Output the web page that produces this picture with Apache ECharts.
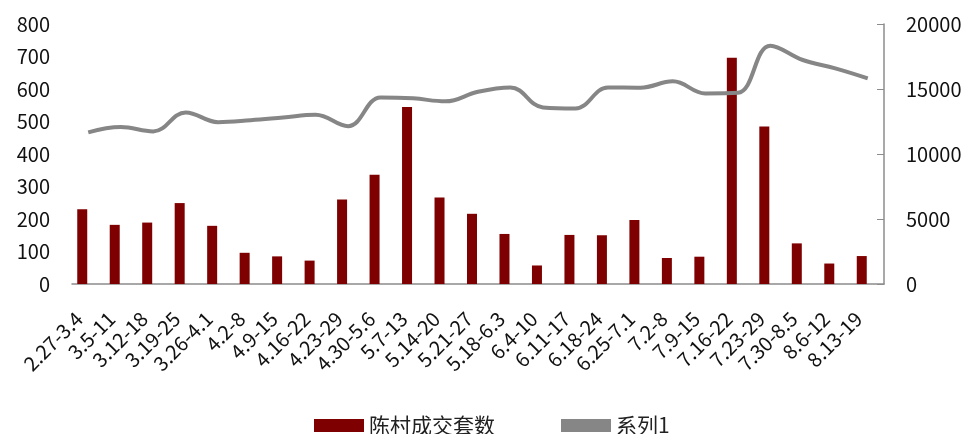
<!DOCTYPE html>
<html>
<head>
<meta charset="utf-8">
<script src="https://cdn.jsdelivr.net/npm/echarts@6/dist/echarts.min.js"></script>
<style>html,body{margin:0;padding:0;background:#fff}#c{width:971px;height:434px}</style>
</head>
<body>
<div id="c"></div>
<script>
const categories = ['2.27-3.4','3.5-11','3.12-18','3.19-25','3.26-4.1','4.2-8','4.9-15','4.16-22','4.23-29','4.30-5.6','5.7-13','5.14-20','5.21-27','5.18-6.3','6.4-10','6.11-17','6.18-24','6.25-7.1','7.2-8','7.9-15','7.16-22','7.23-29','7.30-8.5','8.6-12','8.13-19'];
const chencunDeals = [230,182,189,249,179,96,85,72,260,336,545,266,216,154,57,151,150,197,80,84,696,485,125,63,86];
const series1 = [11660,12070,11740,13200,12450,12600,12810,13020,12140,14350,14280,14050,14790,15120,13580,13500,15120,15100,15590,14660,14710,18330,17230,16590,15820];
const leftTicks = {min:0,max:800,interval:100};
const rightTicks = {min:0,max:20000,interval:5000};

const FONT = '"Noto Sans CJK SC","Noto Sans",sans-serif';
const chart = echarts.init(document.getElementById('c'), null, {renderer:'canvas'});
chart.setOption({
  animation:false,
  textStyle:{fontFamily:FONT},
  grid:{left:72,right:87,top:24,bottom:150,outerBoundsMode:'none',containLabel:false},
  legend:{
    data:['陈村成交套数','系列1'],
    top:410,left:309,
    icon:'rect',itemWidth:50,itemHeight:13,itemGap:66,itemTextGap:6,
    textStyle:{fontSize:21,color:'#222',fontFamily:FONT}
  },
  xAxis:{
    type:'category',data:categories,boundaryGap:true,
    axisLine:{show:true,lineStyle:{color:'#8c8c8c',width:1.5}},
    axisTick:{show:false},
    axisLabel:{interval:0,rotate:45,fontSize:20,color:'#111',margin:22,padding:[0,13,0,0],fontFamily:FONT}
  },
  yAxis:[
    {type:'value',min:leftTicks.min,max:leftTicks.max,interval:leftTicks.interval,
     axisLine:{show:false},axisTick:{show:false},splitLine:{show:false},
     axisLabel:{fontSize:20,color:'#111',margin:22,fontFamily:FONT}},
    {type:'value',min:rightTicks.min,max:rightTicks.max,interval:rightTicks.interval,position:'right',
     axisLine:{show:true,lineStyle:{color:'#8c8c8c',width:1.5}},
     axisTick:{show:true,inside:true,length:7,lineStyle:{color:'#8c8c8c'}},
     splitLine:{show:false},
     axisLabel:{fontSize:20,color:'#111',margin:22,fontFamily:FONT,align:'left',formatter:v=>String(v)}}
  ],
  series:[
    {name:'陈村成交套数',type:'bar',yAxisIndex:0,data:chencunDeals,barWidth:10,barGap:'20%',
     itemStyle:{color:'#7f0000'}},
    {name:'_spacer',type:'bar',yAxisIndex:0,data:chencunDeals.map(()=>null),barWidth:10,
     itemStyle:{color:'transparent'}},
    {name:'系列1',type:'line',yAxisIndex:1,data:series1,smooth:0.4,symbol:'none',
     lineStyle:{color:'#868686',width:4},itemStyle:{color:'#868686'}}
  ]
});
</script>
</body>
</html>
